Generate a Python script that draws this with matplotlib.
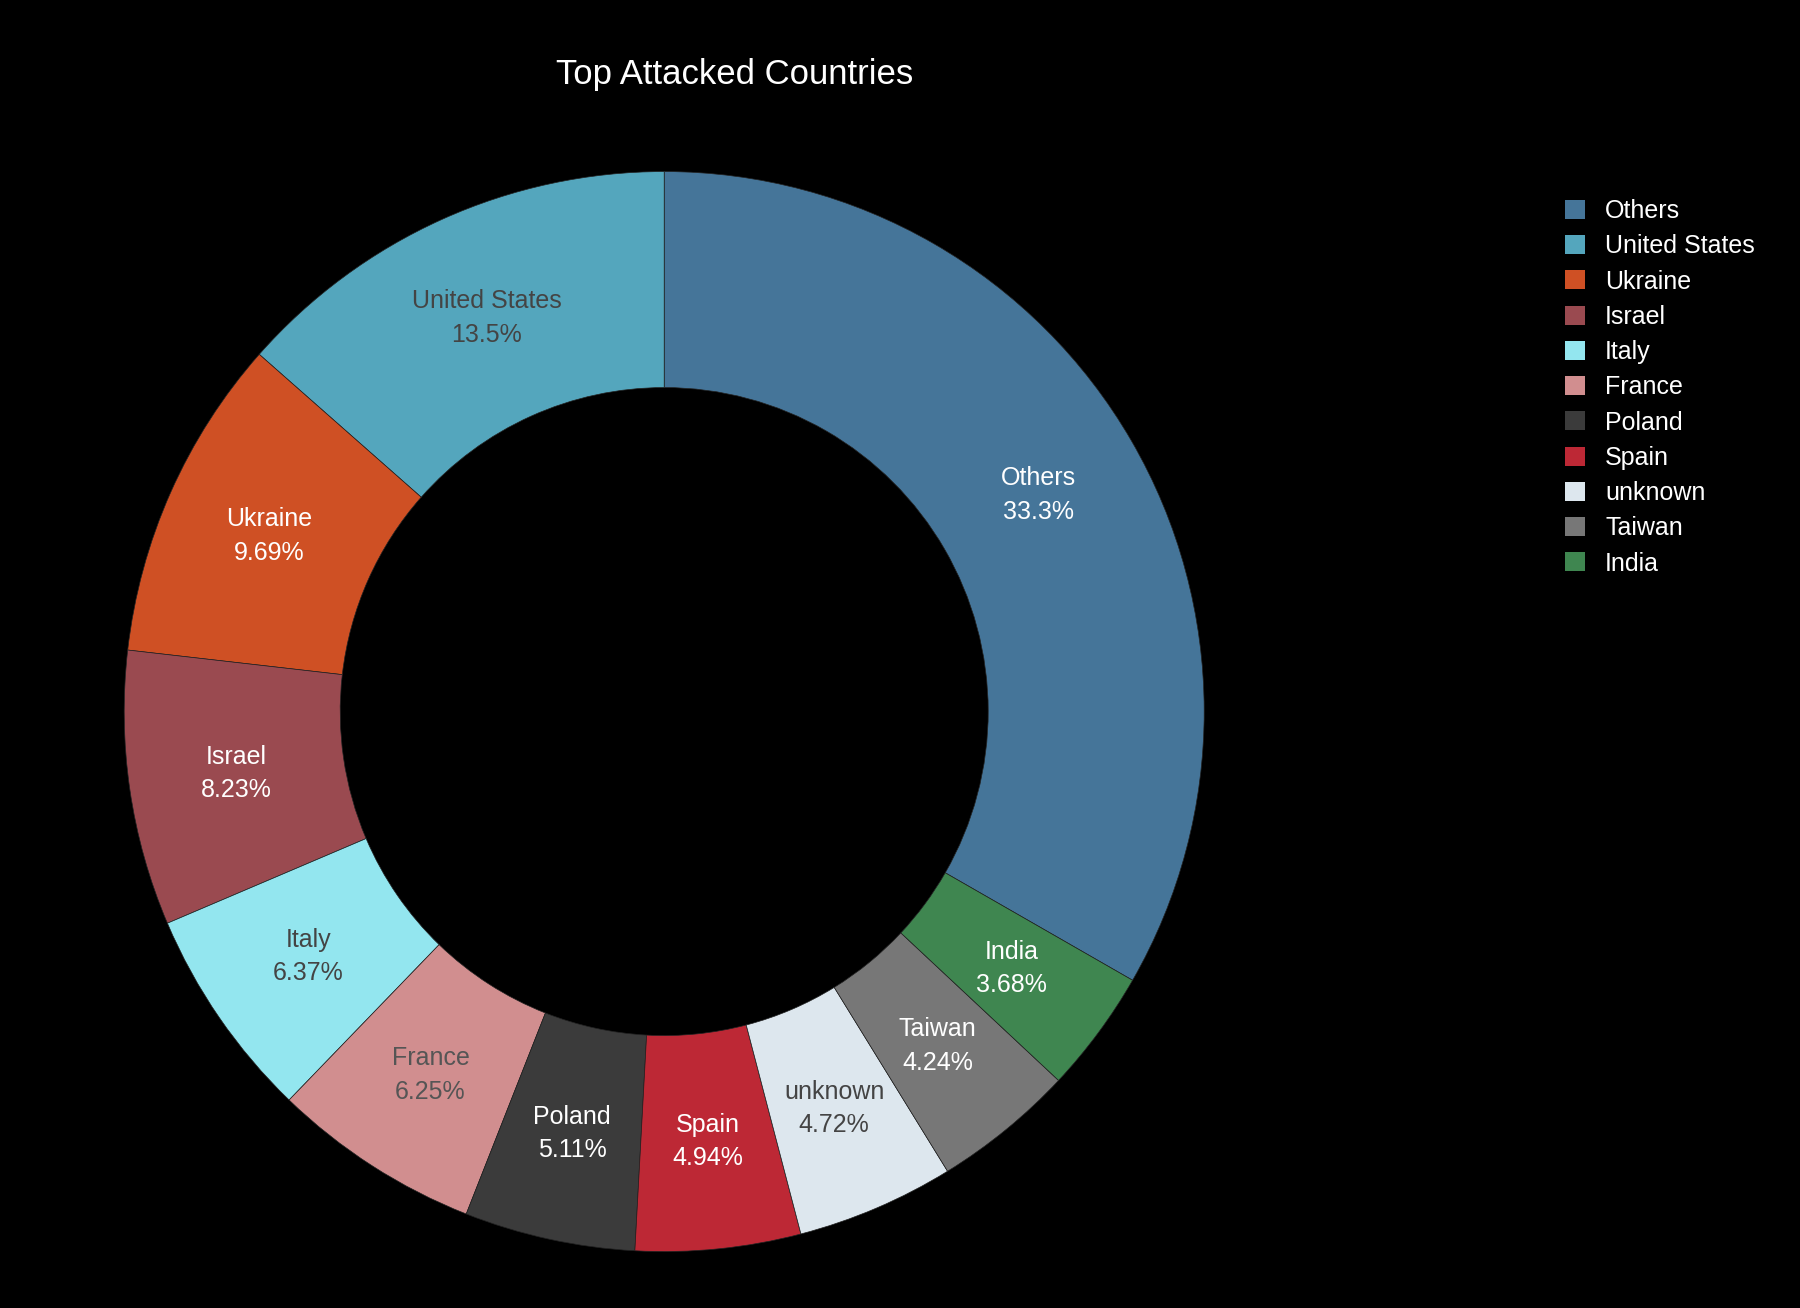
import numpy as np
import matplotlib.pyplot as plt
from matplotlib.patches import Patch

plt.rcParams["font.family"] = "Liberation Sans"

countries = ["Others", "United States", "Ukraine", "Israel", "Italy", "France",
             "Poland", "Spain", "unknown", "Taiwan", "India"]
shares = [33.3, 13.5, 9.69, 8.23, 6.37, 6.25, 5.11, 4.94, 4.72, 4.24, 3.68]
share_labels = ["33.3%", "13.5%", "9.69%", "8.23%", "6.37%", "6.25%",
                "5.11%", "4.94%", "4.72%", "4.24%", "3.68%"]

colors = ["#457599", "#54a6bd", "#cf5024", "#9a4a50", "#93e6ef", "#d18e8f",
          "#3b3b3b", "#bd2835", "#dde7ee", "#777777", "#3f8650"]
text_colors = ["white", "#444444", "white", "white", "#444444", "#555555",
               "white", "white", "#444444", "white", "white"]

fig = plt.figure(figsize=(18, 13.08), dpi=100, facecolor="black")
ax = fig.add_axes([0.069, 0.043, 0.6, 0.826])
ax.set_facecolor("black")

# Others ends at the top; the rest run counterclockwise from the top
start = 90 - shares[0] / sum(shares) * 360
wedges, _ = ax.pie(shares, colors=colors, startangle=start, counterclock=True,
                   wedgeprops=dict(width=0.4, edgecolor="#222222", linewidth=0.5))
ax.set_aspect("equal")
ax.set_xlim(-1.0, 1.0)
ax.set_ylim(-1.0, 1.0)

for w, name, pct, tc in zip(wedges, countries, share_labels, text_colors):
    ang = np.deg2rad((w.theta1 + w.theta2) / 2)
    ax.text(0.8 * np.cos(ang), 0.8 * np.sin(ang), f"{name}\n{pct}",
            ha="center", va="center", color=tc, fontsize=18, linespacing=1.5)

fig.text(0.408, 0.943, "Top Attacked Countries", ha="center", va="center",
         color="white", fontsize=25)

handles = [Patch(facecolor=c, label=n) for c, n in zip(colors, countries)]
leg = fig.legend(handles=handles, loc="upper left", bbox_to_anchor=(0.857, 0.865),
                 frameon=False, fontsize=18, handlelength=0.8, handleheight=0.8,
                 labelspacing=0.45)
for t in leg.get_texts():
    t.set_color("white")

fig.savefig("out.png", facecolor="black")
